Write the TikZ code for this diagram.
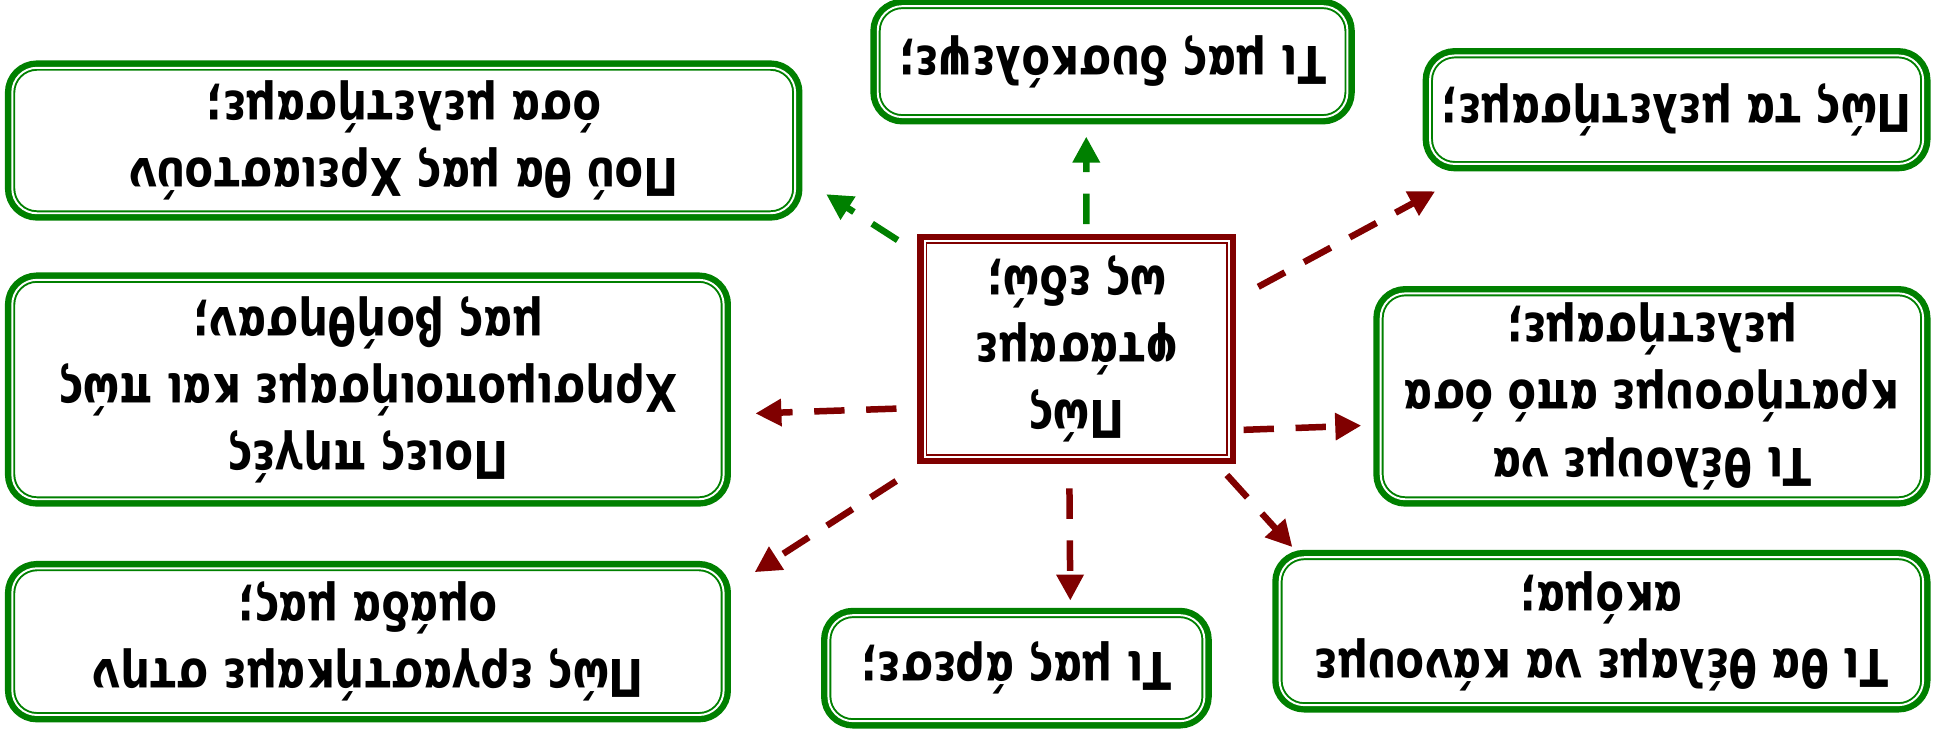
\documentclass[tikz,border=0pt]{standalone}
\usepackage{fontspec}
\newfontfamily\grfont{DejaVu Sans}[FakeStretch=0.80]
\usetikzlibrary{arrows.meta}
\definecolor{boxgreen}{RGB}{0,128,0}
\definecolor{hubred}{RGB}{128,0,0}

\begin{document}
\begin{tikzpicture}[%
    rotate=180,%
    transform shape,%
    font=\grfont\bfseries\fontsize{12}{15.5}\selectfont,%
    gbox/.style={rounded corners=0.2cm, fill=white, draw=boxgreen,
      line width=0.45pt, double=white, double distance=0.45pt,
      preaction={draw=boxgreen, line width=3.4pt}, align=center,
      inner sep=2pt},%
    hbox/.style={fill=white, draw=hubred, line width=0.45pt,
      double=white, double distance=0.45pt,
      preaction={draw=hubred, line width=3.4pt}, align=center},%
    link/.style={line width=1.5pt, dash pattern=on 7pt off 5pt,
      -{Triangle[length=6pt,width=6pt]}},%
    ]
  \useasboundingbox (0,0) rectangle (15.68,5.93);%

  % Centre
  \node[hbox, minimum width=2.47cm, minimum height=1.70cm] (H) at (6.945,2.83)
    {Πώς\\φτάσαμε\\ως εδώ;};%

  % Questions
  \node[gbox, minimum width=6.35cm, minimum height=1.18cm] (Q1) at (12.405,1.14)
    {Πού θα μας Χρειαστούν\\όσα μελετήσαμε;};%
  \node[gbox, minimum width=3.81cm, minimum height=0.90cm] (Q2) at (6.655,0.50)
    {Τι μας δυσκόλεψε;};%
  \node[gbox, minimum width=4.00cm, minimum height=0.88cm] (Q3) at (2.08,0.89)
    {Πώς τα μελετήσαμε;};%
  \node[gbox, minimum width=5.77cm, minimum height=1.78cm] (Q4) at (12.695,3.16)
    {Ποιες πηγές\\Χρησιμοποιήσαμε και πώς\\μας βοήθησαν;};%
  \node[gbox, minimum width=4.40cm, minimum height=1.67cm] (Q6) at (2.28,3.215)
    {Τι θέλουμε να\\κρατήσουμε από όσα\\μελετήσαμε;};%
  \node[gbox, minimum width=5.77cm, minimum height=1.19cm] (Q7) at (12.695,5.205)
    {Πώς εργαστήκαμε στην\\ομάδα μας;};%
  \node[gbox, minimum width=3.05cm, minimum height=0.86cm] (Q8) at (7.435,5.42)
    {Τι μας άρεσε;};%
  \node[gbox, minimum width=5.22cm, minimum height=1.20cm] (Q9) at (2.69,5.12)
    {Τι θα θέλαμε να κάνουμε\\ακόμα;};%

  % Flèches
  \draw[link, boxgreen, shorten <=0.25cm, shorten >=0.29cm] (H.-31) -- (Q1.175);%
  \draw[link, boxgreen, shorten <=0.13cm, shorten >=0.15cm] (H.-95.7) -- (Q2.65.5);%
  \draw[link, hubred, shorten <=0.26cm, shorten >=0.45cm] (H.-163.5) -- (Q3.16);%
  \draw[link, hubred, shorten <=0.22cm, shorten >=0.25cm] (H.21.6) -- (Q4.176.8);%
  \draw[link, hubred, shorten <=0.11cm, shorten >=0.15cm] (H.152.2) -- (Q6.6.9);%
  \draw[link, hubred, shorten <=0.35cm, shorten >=0.29cm] (H.37) -- (Q7.-172);%
  \draw[link, hubred, shorten <=0.25cm, shorten >=0.11cm] (H.86.5) -- (Q8.-135.5);%
  \draw[link, hubred, shorten <=0.19cm, shorten >=0.10cm] (H.141.7) -- (Q9.-14);%
\end{tikzpicture}
\end{document}
